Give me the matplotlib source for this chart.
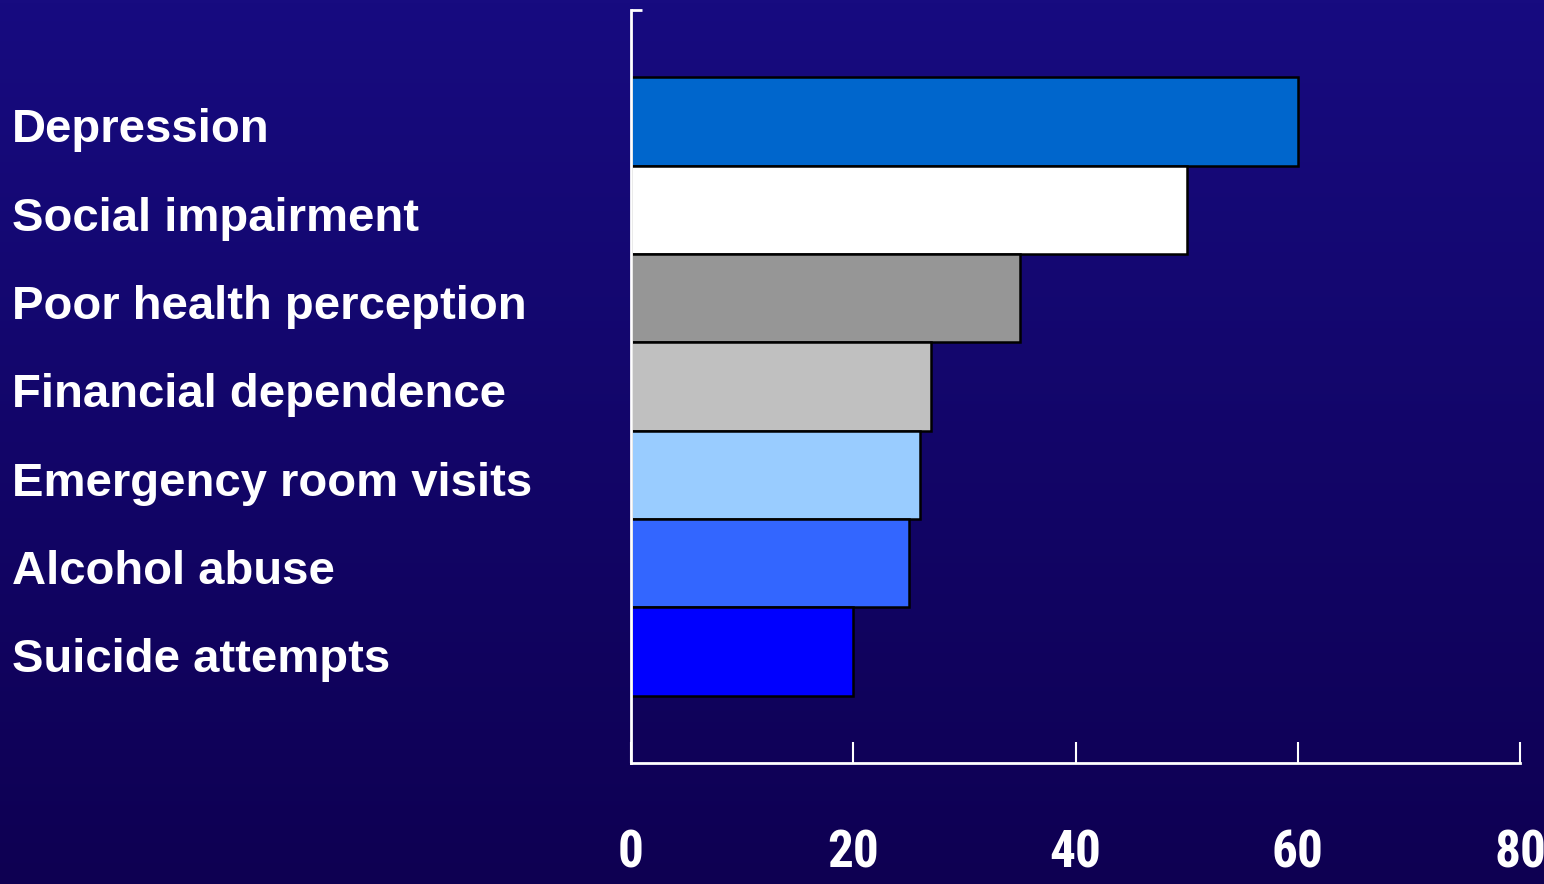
import numpy as np
import matplotlib
matplotlib.use("Agg")
import matplotlib.pyplot as plt
from matplotlib import transforms
from matplotlib.colors import LinearSegmentedColormap

categories = ["Depression", "Social impairment", "Poor health perception",
              "Financial dependence", "Emergency room visits",
              "Alcohol abuse", "Suicide attempts"]
values = [60, 50, 35, 27, 26, 25, 20]
bar_colors = ["#0066CC", "#FFFFFF", "#969696", "#C0C0C0",
              "#99CCFF", "#3366FF", "#0000FF"]
xticks = [0, 20, 40, 60, 80]

fig = plt.figure(figsize=(15.44, 8.84), dpi=100)

# background gradient
bg = fig.add_axes([0, 0, 1, 1], zorder=-10)
grad = np.linspace(0, 1, 256).reshape(-1, 1)
cmap = LinearSegmentedColormap.from_list("bg", ["#170b80", "#0e0052"])
bg.imshow(grad, aspect="auto", cmap=cmap, extent=[0, 1, 0, 1])
bg.axis("off")

ax = fig.add_axes([631 / 1544, 1 - 763 / 884, 889 / 1544, 753 / 884])
ax.patch.set_visible(False)

pos = np.arange(len(categories))
ax.barh(pos, values, height=1.0, color=bar_colors, edgecolor="black",
        linewidth=1.8, zorder=2)

ax.set_xlim(0, 80)
ax.set_ylim(len(categories) - 0.5 + 0.76, -0.5 - 0.76)

for s in ["top", "right"]:
    ax.spines[s].set_visible(False)
for s in ["left", "bottom"]:
    ax.spines[s].set_color("white")
    ax.spines[s].set_linewidth(2)
    ax.spines[s].set_zorder(4)

ax.set_xticks(xticks)
ax.tick_params(axis="x", direction="in", length=15, width=1.5, color="white",
               pad=47, labelcolor="white")
for lab in ax.get_xticklabels():
    lab.set_family(["Liberation Sans Narrow", "Roboto Condensed",
                    "Open Sans Condensed", "DejaVu Sans"])
    lab.set_stretch("condensed")
    lab.set_fontweight("bold")
    lab.set_fontsize(37)

# small tick at top of the y axis
ax.set_yticks([ax.get_ylim()[1]])
ax.set_yticklabels([""])
ax.tick_params(axis="y", direction="in", length=8, width=2, color="white")

trans = transforms.blended_transform_factory(fig.transFigure, ax.transData)
for i, name in enumerate(categories):
    fig.text(12 / 1544, pos[i] + 0.1, name, transform=trans, color="white",
             fontsize=34, fontweight="bold", family="Liberation Sans",
             ha="left", va="center")

fig.savefig("out.png", dpi=100)
